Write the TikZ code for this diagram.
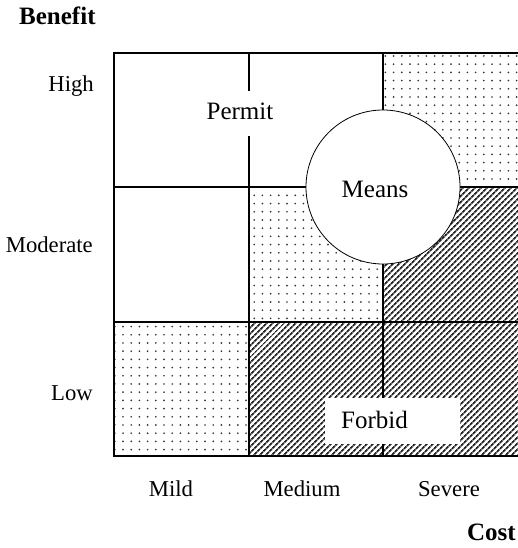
\documentclass[tikz,border=0pt]{standalone}
\usepackage{fontspec}
\setmainfont{Liberation Serif}
\usetikzlibrary{patterns.meta}
\begin{document}
\begin{tikzpicture}[x=1pt,y=-1pt,
  dotted area/.style={pattern={Dots[distance=8.2pt,radius=0.95pt]},pattern color=black!80},
  hatched area/.style={pattern={Lines[angle=45,distance=4pt,line width=1.8pt]},pattern color=black!85},
  gridline/.style={line width=1.4pt},
  axislabel/.style={font=\fontsize{22.7}{26}\selectfont,inner sep=0pt},
  regionlabel/.style={font=\fontsize{25}{29}\selectfont,inner sep=0pt},
  titlelabel/.style={font=\fontsize{25}{29}\selectfont\bfseries,inner sep=0pt}]
\useasboundingbox (0,0) rectangle (517,548);
\fill[white] (0,0) rectangle (517,548);
% cells
\fill[dotted area] (383,53) rectangle (519,187);
\fill[dotted area] (249,187) rectangle (383,322);
\fill[dotted area] (114,322) rectangle (249,456);
\fill[hatched area] (383,187) rectangle (519,322);
\fill[hatched area] (249,322) rectangle (519,456);
% frame and grid
\draw[gridline] (519,53) -- (114,53) -- (114,456) -- (519,456);
\draw[gridline] (114,187) -- (519,187);
\draw[gridline] (114,322) -- (519,322);
\draw[gridline] (249,53) -- (249,456);
\draw[gridline] (383,53) -- (383,456);
% circle
\node[circle,draw,fill=white,line width=0.8pt,minimum size=154pt,inner sep=0pt] (means) at (383,187) {};
% label boxes
\fill[white] (190,91) rectangle (325,136);
\fill[white] (325,398) rectangle (460,444);
\node[regionlabel,anchor=base] (permit) at (240,120) {Permit};
\node[regionlabel,anchor=base] (meanslbl) at (375,197) {Means};
\node[regionlabel,anchor=base west] (forbid) at (341,428) {Forbid};
% axis labels
\node[titlelabel,anchor=base west] (benefit) at (19,25) {Benefit};
\node[axislabel,anchor=base east] (high) at (94,92) {High};
\node[axislabel,anchor=base east] (moderate) at (93,252) {Moderate};
\node[axislabel,anchor=base east] (low) at (93,400) {Low};
\node[axislabel,anchor=base] (mild) at (171,496) {Mild};
\node[axislabel,anchor=base] (medium) at (302,496) {Medium};
\node[axislabel,anchor=base] (severe) at (449,496) {Severe};
\node[titlelabel,anchor=base east] (cost) at (516,540) {Cost};
\end{tikzpicture}
\end{document}
